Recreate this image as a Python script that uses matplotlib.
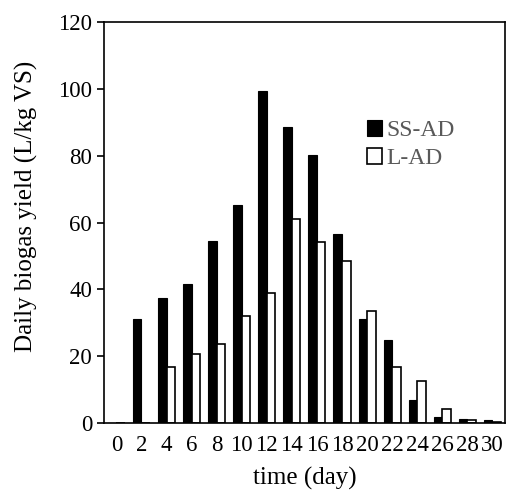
import numpy as np
import matplotlib
matplotlib.use("Agg")
import matplotlib.pyplot as plt

# data
days = [0, 2, 4, 6, 8, 10, 12, 14, 16, 18, 20, 22, 24, 26, 28, 30]
ss_ad = [0, 31.1, 37.5, 41.7, 54.5, 65.2, 99.4, 88.7, 80.1, 56.7, 31.1, 24.7, 7.0, 1.9, 1.2, 1.0]
l_ad = [0, 0, 16.7, 20.8, 23.6, 32.0, 38.9, 61.0, 54.1, 48.6, 33.4, 16.7, 12.5, 4.2, 0.9, 0.3]

plt.rcParams["font.family"] = ["Liberation Serif", "DejaVu Serif"]

fig = plt.figure(figsize=(5.09, 4.93), dpi=100)
ax = fig.add_axes([0.204, 0.142, 0.788, 0.813])

x = np.arange(len(days))
w = 0.34
ax.bar(x - w / 2, ss_ad, w, color="black", edgecolor="black", linewidth=0.8, label="SS-AD")
ax.bar(x + w / 2, l_ad, w, color="white", edgecolor="black", linewidth=1.2, label="L-AD")

ax.set_xlim(-0.5, len(days) - 0.5)
ax.set_ylim(0, 120)
ax.set_yticks(range(0, 121, 20))
ax.set_xticks(x)
ax.set_xticklabels([str(d) for d in days])
ax.tick_params(axis="x", length=0, pad=9, labelsize=16.5)
ax.tick_params(axis="y", direction="out", length=5, width=1.2, labelsize=16.5)
for s in ax.spines.values():
    s.set_linewidth(1.2)

ax.set_xlabel("time (day)", fontsize=18)
ax.set_ylabel("Daily biogas yield (L/kg VS)", fontsize=18)
ax.xaxis.set_label_coords(0.5, -0.11)
ax.yaxis.set_label_coords(-0.165, 0.54)

leg = ax.legend(loc="upper left", bbox_to_anchor=(0.632, 0.78), frameon=False,
                fontsize=17, handlelength=0.65, handleheight=0.65,
                handletextpad=0.2, labelspacing=0.3, borderaxespad=0)
for t in leg.get_texts():
    t.set_color("#595959")

fig.savefig("out.png", dpi=100)
